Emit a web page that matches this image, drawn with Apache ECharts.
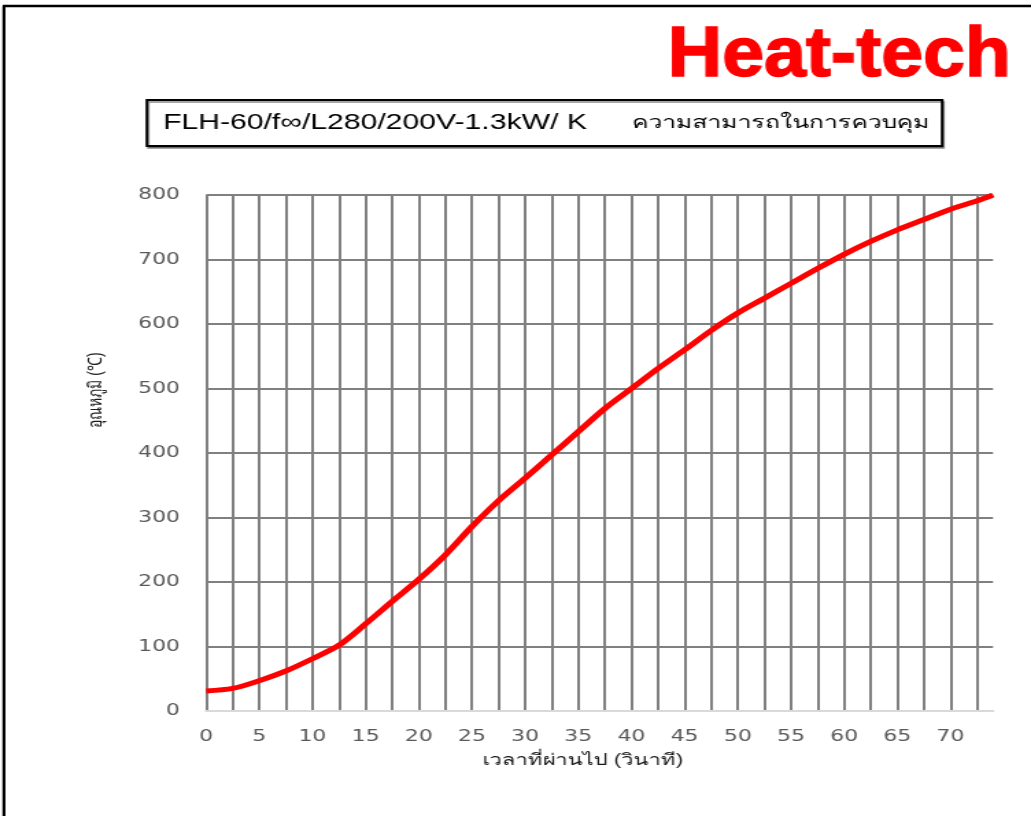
<!DOCTYPE html>
<html>
<head>
<meta charset="utf-8">
<script src="https://cdn.jsdelivr.net/npm/echarts@6/dist/echarts.min.js"></script>
<style>
    html, body { margin: 0; padding: 0; background: #fff; overflow: hidden; }
    /* the reference is a horizontally stretched picture, so draw narrow and stretch */
    #wrap { width: 752px; height: 816px; transform: scaleX(1.37101); transform-origin: 0 0; }
    #main { width: 752px; height: 816px; }
</style>
</head>
<body>
<div id="wrap"><div id="main"></div></div>
<script>
// elapsed time (s) and temperature (℃)
const timeSec = [0, 2.5, 5, 7.5, 10, 12.5, 15, 17.5, 20, 22.5, 25, 27.5, 30, 32.5, 35, 37.5,
    40, 42.5, 45, 47.5, 50, 52.5, 55, 57.5, 60, 62.5, 65, 67.5, 70, 72.5, 74];
const tempC = [31, 35, 47, 62, 81, 102, 135, 170, 204, 242, 286, 326, 361, 397, 433, 469,
    500, 531, 560, 590, 617, 640, 663, 686, 708, 728, 746, 762, 778, 791, 800];

const brandText = "Heat-tech";
const modelText = "FLH-60/f∞/L280/200V-1.3kW/ K";
const titleText = "ความสามารถในการควบคุม";
const xName = "เวลาที่ผ่านไป (วินาที)";
const yName = "อุณหภูมิ (℃)";

let seriesData = [];
for (let i = 0; i < timeSec.length; i++) {
    seriesData.push([timeSec[i], tempC[i]]);
}

let chart = echarts.init(document.getElementById("main"), null, {renderer: 'canvas'});

let labelFont = 'DejaVu Sans, sans-serif';
let thaiFont = 'Liberation Sans, Noto Sans, sans-serif';

let option = {
    backgroundColor: '#fff',
    animation: false,
    grid: {
        left: 150.3,
        right: 27.7,
        top: 195,
        bottom: 105
    },
    xAxis: {
        type: 'value',
        min: 0,
        max: 74,
        interval: 2.5,
        name: xName,
        nameLocation: 'middle',
        nameGap: 42,
        nameTextStyle: {
            color: '#1a1a1a',
            fontSize: 16,
            fontFamily: thaiFont,
            padding: [0, 24, 0, 0]
        },
        axisLine: { show: true, lineStyle: { color: '#d9d9d9', width: 2 } },
        axisTick: { show: false },
        axisLabel: {
            margin: 18,
            color: '#595959',
            fontSize: 16,
            fontFamily: labelFont,
            showMaxLabel: false,
            formatter: function (value) {
                return value % 5 === 0 ? String(value) : '';
            }
        },
        splitLine: {
            show: true,
            showMaxLine: false,
            lineStyle: { color: '#808080', width: 2 }
        }
    },
    yAxis: {
        type: 'value',
        min: 0,
        max: 800,
        interval: 100,
        name: yName,
        nameLocation: 'middle',
        nameGap: 73,
        nameTextStyle: {
            color: '#1a1a1a',
            fontSize: 14,
            fontFamily: thaiFont,
            padding: [0, 0, 0, 126]
        },
        axisLine: { show: false },
        axisTick: { show: false },
        axisLabel: {
            margin: 19,
            color: '#595959',
            fontSize: 16,
            fontFamily: labelFont
        },
        splitLine: {
            show: true,
            lineStyle: { color: '#808080', width: 2 }
        }
    },
    graphic: [
        // outer frame (left and top edges only)
        { type: 'line', shape: { x1: 2.9, y1: 6, x2: 2.9, y2: 820 }, style: { stroke: '#000', lineWidth: 2.2 } },
        { type: 'line', shape: { x1: 2, y1: 6, x2: 760, y2: 6 }, style: { stroke: '#000', lineWidth: 2.5 } },
        // brand
        {
            type: 'text',
            x: 487, y: 57,
            scaleX: 0.785,
            style: {
                text: brandText,
                fill: '#ff0000',
                font: 'bold 70px "Liberation Sans", sans-serif',
                textAlign: 'left',
                textVerticalAlign: 'middle',
                stroke: '#ff0000',
                lineWidth: 1.5
            }
        },
        // title box
        {
            type: 'rect',
            shape: { x: 107.2, y: 100, width: 580, height: 46 },
            style: { fill: '#fff', stroke: '#000', lineWidth: 2, shadowColor: 'rgba(0,0,0,0.35)', shadowOffsetX: 1, shadowOffsetY: 2 }
        },
        {
            type: 'text',
            x: 118.9, y: 123,
            style: {
                text: modelText,
                fill: '#000',
                font: '22px "Liberation Sans", Arial, sans-serif',
                textVerticalAlign: 'middle'
            }
        },
        {
            type: 'text',
            x: 461, y: 123,
            style: {
                text: titleText,
                fill: '#000',
                font: '18px "Liberation Sans", "Noto Sans", sans-serif',
                textVerticalAlign: 'middle'
            }
        }
    ],
    series: [
        {
            type: 'line',
            data: seriesData,
            smooth: 0.3,
            showSymbol: false,
            symbol: 'none',
            lineStyle: { color: '#ff0000', width: 5 },
            z: 5
        }
    ]
};

chart.setOption(option);
</script>
</body>
</html>
